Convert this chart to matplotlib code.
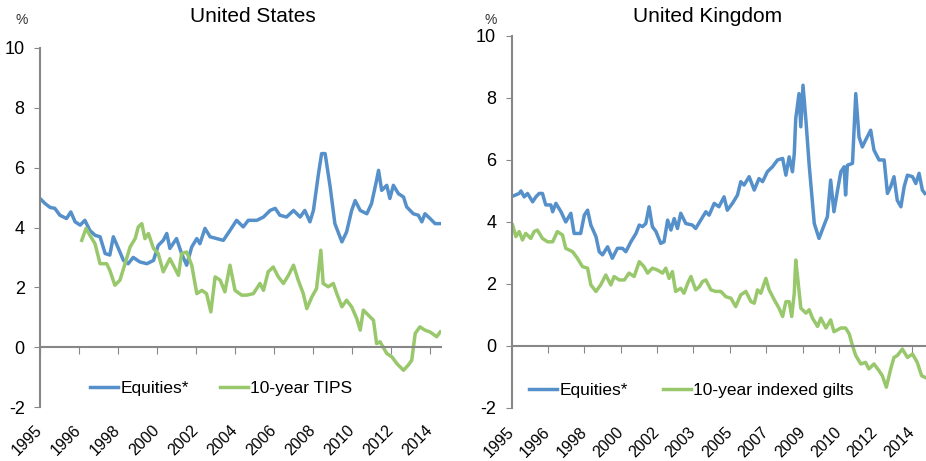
import matplotlib.pyplot as plt

plt.rcParams['font.family'] = ['Liberation Sans', 'DejaVu Sans']
plt.rcParams['axes.unicode_minus'] = False

BLUE = '#5590CA'
GREEN = '#98C86B'
GREY = '#878787'

# x positions are in category-axis units (one unit per labelled tick)
us_years = ['1995', '1996', '1998', '2000', '2002', '2004', '2006', '2008', '2010', '2012', '2014']
uk_years = ['1995', '1996', '1998', '2000', '2002', '2003', '2005', '2007', '2009', '2010', '2012', '2014']

us_eq_x = [0, 0.13, 0.26, 0.38, 0.51, 0.68, 0.79, 0.9, 1.03, 1.15, 1.28, 1.41, 1.54, 1.67, 1.79, 1.88,
           2.01, 2.14, 2.26, 2.39, 2.56, 2.74, 2.91, 3.03, 3.16, 3.25, 3.33, 3.5, 3.63, 3.76, 3.89,
           4.02, 4.1, 4.23, 4.36, 4.53, 4.7, 4.87, 5.04, 5.21, 5.34, 5.56, 5.73, 5.9, 6.03, 6.15,
           6.32, 6.5, 6.67, 6.79, 6.92, 7.01, 7.14, 7.22, 7.31, 7.44, 7.56, 7.74, 7.86, 7.99, 8.08,
           8.21, 8.38, 8.5, 8.63, 8.68, 8.76, 8.89, 8.97, 9.06, 9.19, 9.32, 9.4, 9.57, 9.7, 9.79,
           9.87, 10.0, 10.13, 10.26]
us_eq = [4.97, 4.8, 4.67, 4.64, 4.41, 4.3, 4.52, 4.19, 4.08, 4.24, 3.9, 3.74, 3.69, 3.13, 3.08, 3.69,
         3.3, 2.9, 2.79, 3.0, 2.85, 2.79, 2.9, 3.4, 3.57, 3.8, 3.3, 3.63, 3.13, 2.74, 3.35,
         3.63, 3.46, 3.97, 3.69, 3.63, 3.57, 3.9, 4.24, 4.02, 4.24, 4.24, 4.35, 4.57, 4.64, 4.41,
         4.35, 4.57, 4.35, 4.57, 4.19, 4.57, 5.8, 6.47, 6.47, 5.35, 4.13, 3.52, 3.85, 4.57, 4.9,
         4.57, 4.46, 4.8, 5.58, 5.91, 5.24, 5.41, 4.97, 5.41, 5.13, 5.02, 4.69, 4.46, 4.41, 4.19,
         4.46, 4.3, 4.13, 4.13]

us_tips_x = [1.07, 1.18, 1.28, 1.41, 1.54, 1.71, 1.79, 1.92, 2.05, 2.18, 2.31, 2.44, 2.52, 2.61, 2.69,
             2.78, 2.91, 3.03, 3.16, 3.33, 3.46, 3.55, 3.63, 3.76, 3.89, 4.02, 4.15, 4.27, 4.38, 4.49,
             4.62, 4.74, 4.87, 5.0, 5.17, 5.3, 5.47, 5.64, 5.73, 5.85, 5.98, 6.11, 6.24, 6.37, 6.5,
             6.62, 6.75, 6.84, 6.97, 7.09, 7.2, 7.26, 7.39, 7.52, 7.61, 7.74, 7.86, 7.99, 8.12, 8.21,
             8.29, 8.42, 8.55, 8.63, 8.72, 8.89, 9.02, 9.15, 9.32, 9.44, 9.53, 9.62, 9.74, 9.87, 10.0,
             10.17, 10.26]
us_tips = [3.57, 3.97, 3.74, 3.46, 2.79, 2.79, 2.57, 2.07, 2.24, 2.79, 3.35, 3.63, 4.02, 4.13, 3.63,
           3.8, 3.3, 3.13, 2.52, 2.96, 2.63, 2.4, 3.13, 3.18, 2.74, 1.79, 1.9, 1.79, 1.18, 2.35,
           2.24, 1.85, 2.74, 1.9, 1.74, 1.74, 1.79, 2.13, 1.9, 2.52, 2.68, 2.35, 2.13, 2.4, 2.74,
           2.24, 1.79, 1.29, 1.68, 1.96, 3.24, 2.13, 2.02, 2.13, 1.79, 1.35, 1.57, 1.35, 0.96, 0.57,
           1.24, 1.07, 0.9, 0.12, 0.18, -0.21, -0.32, -0.55, -0.77, -0.6, -0.44, 0.46, 0.68, 0.57, 0.51,
           0.35, 0.51]

uk_eq_x = [0.03, 0.21, 0.26, 0.35, 0.44, 0.58, 0.67, 0.76, 0.85, 0.94, 1.08, 1.13, 1.22, 1.36, 1.49,
           1.63, 1.72, 1.9, 2.0, 2.09, 2.18, 2.32, 2.41, 2.5, 2.64, 2.77, 2.91, 3.05, 3.14, 3.28,
           3.42, 3.51, 3.6, 3.69, 3.78, 3.87, 3.97, 4.1, 4.19, 4.29, 4.38, 4.47, 4.56, 4.65, 4.79,
           4.97, 5.06, 5.2, 5.34, 5.43, 5.57, 5.7, 5.84, 5.93, 6.07, 6.21, 6.3, 6.39, 6.53, 6.67,
           6.8, 6.9, 7.03, 7.17, 7.31, 7.45, 7.54, 7.63, 7.72, 7.77, 7.81, 7.9, 7.95, 8.01, 8.09,
           8.18, 8.32, 8.45, 8.59, 8.68, 8.77, 8.86, 8.96, 9.05, 9.14, 9.18, 9.23, 9.37, 9.46, 9.55,
           9.64, 9.73, 9.87, 9.96, 10.1, 10.24, 10.33, 10.42, 10.51, 10.6, 10.7, 10.79, 10.88, 11.02,
           11.11, 11.2, 11.29, 11.36]
uk_eq = [4.83, 4.92, 5.0, 4.81, 4.92, 4.65, 4.81, 4.92, 4.92, 4.55, 4.55, 4.33, 4.6, 4.33, 4.0,
         4.28, 3.63, 3.63, 4.22, 4.38, 3.9, 3.53, 3.04, 2.94, 3.2, 2.83, 3.15, 3.15, 3.04, 3.36,
         3.63, 3.9, 3.85, 3.95, 4.49, 3.85, 3.69, 3.31, 3.36, 4.06, 3.74, 4.11, 3.79, 4.28, 3.95,
         3.9, 3.79, 4.06, 4.33, 4.22, 4.6, 4.49, 4.81, 4.38, 4.6, 4.87, 5.3, 5.19, 5.46, 5.03,
         5.4, 5.3, 5.62, 5.78, 6.0, 6.05, 5.51, 6.1, 5.62, 6.2, 7.33, 8.14, 7.07, 8.41, 7.28,
         5.83, 3.95, 3.47, 3.9, 4.17, 5.35, 4.33, 5.03, 5.62, 5.78, 4.87, 5.83, 5.89, 8.14, 6.74,
         6.42, 6.64, 6.96, 6.32, 6.0, 6.0, 4.92, 5.14, 5.46, 4.7, 4.49, 5.14, 5.51, 5.46,
         5.24, 5.57, 5.03, 4.92]

uk_ilg_x = [0.03, 0.12, 0.21, 0.3, 0.39, 0.53, 0.62, 0.71, 0.85, 0.99, 1.13, 1.26, 1.4, 1.49, 1.68,
            1.81, 1.95, 2.09, 2.18, 2.32, 2.45, 2.59, 2.73, 2.82, 2.96, 3.1, 3.23, 3.37, 3.51, 3.64,
            3.74, 3.87, 4.01, 4.15, 4.24, 4.33, 4.42, 4.51, 4.65, 4.74, 4.84, 4.93, 5.06, 5.16, 5.25,
            5.34, 5.48, 5.61, 5.75, 5.89, 6.03, 6.16, 6.3, 6.44, 6.58, 6.67, 6.76, 6.85, 6.99, 7.08,
            7.22, 7.35, 7.45, 7.54, 7.63, 7.7, 7.77, 7.81, 7.86, 7.95, 8.09, 8.18, 8.27, 8.41, 8.5,
            8.64, 8.77, 8.86, 9.05, 9.18, 9.28, 9.37, 9.46, 9.6, 9.73, 9.82, 9.96, 10.1, 10.19, 10.3,
            10.42, 10.51, 10.6, 10.74, 10.88, 11.02, 11.15, 11.27, 11.36]
uk_ilg = [3.9, 3.53, 3.69, 3.42, 3.63, 3.47, 3.69, 3.74, 3.47, 3.36, 3.36, 3.69, 3.58, 3.15, 3.04,
          2.83, 2.56, 2.51, 1.97, 1.76, 1.97, 2.29, 1.97, 2.24, 2.13, 2.13, 2.35, 2.24, 2.72, 2.56,
          2.35, 2.51, 2.45, 2.35, 2.51, 2.18, 2.4, 1.76, 1.86, 1.7, 2.02, 2.24, 1.81, 1.91, 2.08,
          2.13, 1.81, 1.76, 1.76, 1.59, 1.54, 1.27, 1.65, 1.76, 1.43, 1.38, 1.81, 1.7, 2.18, 1.81,
          1.49, 1.22, 0.95, 1.43, 1.43, 0.95, 1.7, 2.77, 2.24, 1.22, 1.06, 1.17, 0.9, 0.63, 0.9,
          0.58, 0.84, 0.46, 0.58, 0.58, 0.39, 0.01, -0.31, -0.58, -0.53, -0.74, -0.58, -0.8, -0.96, -1.33,
          -0.74, -0.37, -0.31, -0.1, -0.37, -0.26, -0.53, -0.96, -1.01]


def style_axis(ax, years, xmax, label_y):
    ax.set_xlim(0, xmax)
    ax.set_ylim(-2, 10)
    ax.set_yticks(range(-2, 11, 2))
    for s in ['top', 'right']:
        ax.spines[s].set_visible(False)
    ax.spines['left'].set_color(GREY)
    ax.spines['left'].set_linewidth(1.5)
    ax.spines['bottom'].set_position(('data', 0))
    ax.spines['bottom'].set_color(GREY)
    ax.spines['bottom'].set_linewidth(1.5)
    ax.set_xticks(range(len(years)))
    ax.tick_params(axis='x', direction='out', length=5, color=GREY, labelbottom=False)
    ax.tick_params(axis='y', direction='out', length=4, color=GREY, labelsize=13, pad=7)
    # rotated year labels sit below the plot, not at the zero line
    for i, yr in enumerate(years):
        ax.text(i, label_y, yr, transform=ax.get_xaxis_transform(), rotation=45,
                rotation_mode='anchor', ha='right', va='center', fontsize=11.5)


fig = plt.figure(figsize=(9.26, 4.61), dpi=100)

ax1 = fig.add_axes([0.0432, 0.117, 0.433, 0.779])
ax1.plot(us_eq_x, us_eq, color=BLUE, lw=2.5, label='Equities*')
ax1.plot(us_tips_x, us_tips, color=GREEN, lw=2.5, label='10-year TIPS')
style_axis(ax1, us_years, 10.28, -0.058)
ax1.legend(loc='center', bbox_to_anchor=(0.452, 0.053), ncol=2, frameon=False, fontsize=12.5,
           handlelength=1.6, handletextpad=0.15, columnspacing=1.8)

ax2 = fig.add_axes([0.5524, 0.115, 0.4476, 0.807])
ax2.plot(uk_eq_x, uk_eq, color=BLUE, lw=2.5, label='Equities*')
ax2.plot(uk_ilg_x, uk_ilg, color=GREEN, lw=2.5, label='10-year indexed gilts')
style_axis(ax2, uk_years, 11.39, -0.058)
ax2.legend(loc='center', bbox_to_anchor=(0.434, 0.048), ncol=2, frameon=False, fontsize=12.5,
           handlelength=1.6, handletextpad=0.15, columnspacing=2.0)

fig.text(253 / 926, 1 - 17 / 461, 'United States', ha='center', va='center', fontsize=15)
fig.text(708 / 926, 1 - 17 / 461, 'United Kingdom', ha='center', va='center', fontsize=15)
fig.text(22 / 926, 1 - 20 / 461, '%', ha='center', va='center', fontsize=10, color='#333333')
fig.text(491 / 926, 1 - 20 / 461, '%', ha='center', va='center', fontsize=10, color='#333333')

fig.savefig('out.png', dpi=100)
